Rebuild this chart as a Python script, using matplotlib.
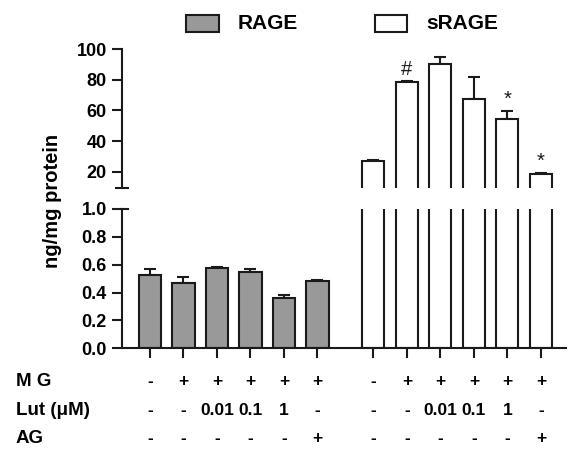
import matplotlib
matplotlib.use("Agg")
import matplotlib.pyplot as plt
from matplotlib.patches import Rectangle
from matplotlib.lines import Line2D

plt.rcParams['font.family'] = ['Liberation Sans', 'DejaVu Sans']
plt.rcParams['font.weight'] = 'bold'

# RAGE (ng/mg protein, lower scale) and sRAGE (upper scale)
rage_mean = [0.525, 0.468, 0.580, 0.550, 0.360, 0.482]
rage_err = [0.045, 0.047, 0.007, 0.018, 0.022, 0.005]
srage_mean = [26.7, 78.2, 90.0, 67.5, 54.5, 18.3]
srage_err = [0.8, 1.2, 4.7, 14.0, 5.0, 1.0]
srage_marks = ['', '#', '', '', '*', '*']

mg_row = ['-', '+', '+', '+', '+', '+']
lut_row = ['-', '-', '0.01', '0.1', '1', '-']
ag_row = ['-', '-', '-', '-', '-', '+']

x_rage = [0, 1, 2, 3, 4, 5]
x_srage = [6.67, 7.67, 8.67, 9.67, 10.67, 11.67]

W, H = 569, 449
fig = plt.figure(figsize=(W / 100, H / 100), dpi=100)

left, right = 122 / W, 566 / W
ax_hi = fig.add_axes([left, 1 - 187.7 / H, right - left, (187.7 - 49) / H])
ax_lo = fig.add_axes([left, 1 - 348.3 / H, right - left, (348.3 - 209) / H])

edge = '#1a1a1a'
bw = 0.66
lw = 1.5

for ax in (ax_hi, ax_lo):
    ax.bar(x_rage, rage_mean, width=bw, color='#999999', edgecolor=edge, linewidth=lw, zorder=2)
    ax.errorbar(x_rage, rage_mean, yerr=[[0] * 6, rage_err], fmt='none', ecolor=edge,
                elinewidth=lw, capsize=4.2, capthick=lw, zorder=1)
    ax.bar(x_srage, srage_mean, width=bw, color='white', edgecolor=edge, linewidth=lw, zorder=2)
    ax.errorbar(x_srage, srage_mean, yerr=[[0] * 6, srage_err], fmt='none', ecolor=edge,
                elinewidth=lw, capsize=4.2, capthick=lw, zorder=1)
    ax.set_xlim(-0.836, 12.42)
    for s in ('top', 'right'):
        ax.spines[s].set_visible(False)
    for s in ('left', 'bottom'):
        ax.spines[s].set_linewidth(lw)
        ax.spines[s].set_color(edge)
    ax.tick_params(axis='both', length=7, width=lw, color=edge, labelsize=13, pad=4)

ax_hi.set_ylim(9.6, 100)
ax_hi.set_yticks([20, 40, 60, 80, 100])
ax_hi.spines['bottom'].set_visible(False)
ax_hi.set_xticks([])

ax_lo.set_ylim(0, 1.0)
ax_lo.set_yticks([0.0, 0.2, 0.4, 0.6, 0.8, 1.0])
ax_lo.set_yticklabels(['0.0', '0.2', '0.4', '0.6', '0.8', '1.0'])
ax_lo.set_xticks(x_rage + x_srage)
ax_lo.set_xticklabels([])

for ax in (ax_hi, ax_lo):
    for lab in ax.get_yticklabels():
        lab.set_fontweight('bold')

# break caps on the y axis
cap_w = 6 / (W * (right - left))
ax_hi.add_line(Line2D([-cap_w, cap_w], [0, 0], transform=ax_hi.transAxes, color=edge,
                      lw=lw, clip_on=False))
ax_lo.add_line(Line2D([0, cap_w], [1, 1], transform=ax_lo.transAxes, color=edge,
                      lw=lw, clip_on=False))

# significance marks
for x, m, e, mk in zip(x_srage, srage_mean, srage_err, srage_marks):
    if mk:
        ax_hi.annotate(mk, (x, m + e), xytext=(0, 1.5), textcoords='offset points',
                       ha='center', va='bottom', fontsize=14.5, fontweight='normal',
                       color=edge)

fig.text(52 / W, 1 - 201 / H, 'ng/mg protein', rotation=90, ha='center', va='center',
         fontsize=14.5, fontweight='bold')

# legend
for (x0, x1), txt_x, fc, name in [((186, 219), 237.7, '#999999', 'RAGE'),
                                   ((375, 407), 426, 'white', 'sRAGE')]:
    fig.add_artist(Rectangle((x0 / W, 1 - 31.5 / H), (x1 - x0) / W, 17 / H,
                             transform=fig.transFigure, facecolor=fc, edgecolor=edge,
                             linewidth=lw))
    fig.text(txt_x / W, 1 - 23.5 / H, name, ha='left', va='center', fontsize=15,
             fontweight='bold')

# treatment table below the axis
row_y = [(381.7, 'M G', mg_row), (410.7, 'Lut (\u03bcM)', lut_row), (438.3, 'AG', ag_row)]
tr = ax_lo.get_xaxis_transform()
for ypix, label, vals in row_y:
    ya = (348.3 - ypix) / (348.3 - 209)
    fig.text(16 / W, 1 - ypix / H, label, ha='left', va='center', fontsize=13.5,
             fontweight='bold')
    for xs in (x_rage, x_srage):
        for x, v in zip(xs, vals):
            ax_lo.text(x, ya, v, transform=tr, ha='center', va='center', fontsize=12.5,
                       fontweight='bold', clip_on=False)

fig.savefig('out.png', dpi=100)
